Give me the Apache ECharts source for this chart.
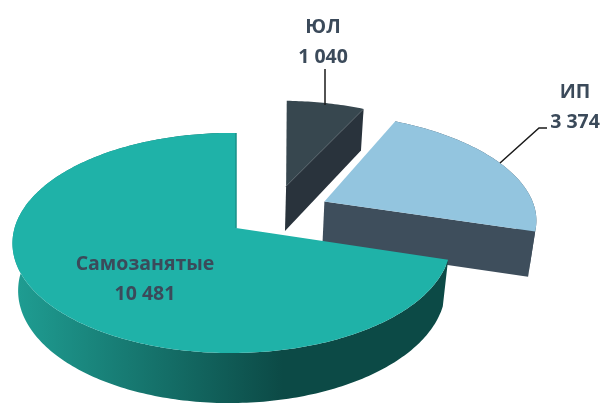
<!DOCTYPE html>
<html>
<head>
<meta charset="utf-8">
<script src="https://cdn.jsdelivr.net/npm/echarts@6/dist/echarts.min.js"></script>
<style>
  html, body { margin: 0; padding: 0; background: #fff; }
  #chart-container { width: 603px; height: 403px; }
</style>
</head>
<body>
<div id="chart-container"></div>
<script>
const categories = ["ЮЛ", "ИП", "Самозанятые"];
const values = [1040, 3374, 10481];
const valueLabels = ["1 040", "3 374", "10 481"];

// how far each slice is pulled out of the pie, in pie radii
const explode = [[0.245, 0.41], [0.425, 0.255], [0, 0]];
// small per slice corrections of the shape: sideways lean and width
const lean = [0.035, 0, 0];
const stretch = [1, 1.03, 1];
const topColors = ["#37474f", "#93c5df", "#1fb2a8"];
const sideColors = ["#29333c", "#3e4e5c", "#0c4a46"];
const labelPos = [[323, 42], [575, 107], [145, 279]];
const leaders = [
    [[325, 69], [325, 105]],
    [[500, 163], [539, 128], [547, 128]],
    null,
];

// perspective projection of the pie plane onto the screen
const cx = 236, cy = 228;
const scaleX = 217, scaleY = 108, depth = 47.6;
const persp = 0.136, perspX = 0.02, perspZ = 0.025;

function project(x, y, z) {
    var d = 1 + persp * y + perspX * x + perspZ * z;
    return [cx + scaleX * x / d, cy + (depth * z - scaleY * y) / d];
}

function rimPoints(i, a0, a1, z) {
    var off = explode[i];
    var pts = [];
    var n = Math.max(2, Math.ceil((a1 - a0) * 180 / Math.PI));
    for (var k = 0; k <= n; k++) {
        var a = a0 + (a1 - a0) * k / n;
        pts.push(project(off[0] + stretch[i] * Math.sin(a) + lean[i] * Math.cos(a), off[1] + Math.cos(a), z));
    }
    return pts;
}

const total = values.reduce(function (s, v) { return s + v; }, 0);
const starts = [];
values.reduce(function (s, v, i) { starts[i] = s; return s + v; }, 0);

function renderSlice(params, api) {
    var i = api.value(0);
    var a0 = starts[i] / total * 2 * Math.PI;
    var a1 = (starts[i] + values[i]) / total * 2 * Math.PI;
    var off = explode[i];
    var apexTop = project(off[0], off[1], 0);
    var apexBottom = project(off[0], off[1], 1);
    var rimTop = rimPoints(i, a0, a1, 0);
    var rimBottom = rimPoints(i, a0, a1, 1);
    var children = [];

    var wallFill = sideColors[i];
    if (i === 2) {
        wallFill = new echarts.graphic.LinearGradient(0, 0, 1, 0, [
            { offset: 0, color: "#1f9e93" },
            { offset: 0.62, color: sideColors[i] },
            { offset: 1, color: sideColors[i] },
        ]);
    }
    // outer wall, the top face covers the part behind it. the first slice only shows its cut face
    if (i !== 0) {
        children.push({
            type: "polygon",
            shape: { points: rimTop.concat(rimBottom.slice().reverse()) },
            style: { fill: wallFill },
        });
    }
    // cut face on the leading edge of the slice
    if (i !== 2) {
        children.push({
            type: "polygon",
            shape: { points: [apexTop, rimTop[rimTop.length - 1], rimBottom[rimBottom.length - 1], apexBottom] },
            style: { fill: sideColors[i] },
        });
    }
    children.push({
        type: "polygon",
        shape: { points: [apexTop].concat(rimTop) },
        style: { fill: topColors[i] },
    });
    if (i === 2) {
        children.push({
            type: "polyline",
            shape: { points: [apexTop, rimTop[rimTop.length - 1]] },
            style: { stroke: "#1a9188", lineWidth: 1.5, fill: null },
        });
    }
    if (leaders[i]) {
        children.push({
            type: "polyline",
            shape: { points: leaders[i] },
            style: { stroke: "#1a1a1a", lineWidth: 1.5, fill: null },
        });
    }
    children.push({
        type: "text",
        style: {
            text: categories[i] + "\n" + valueLabels[i],
            x: labelPos[i][0],
            y: labelPos[i][1],
            align: "center",
            verticalAlign: "middle",
            lineHeight: 30,
            font: "700 19.5px 'Open Sans'",
            fill: "#3b4a5a",
        },
    });
    return { type: "group", children: children };
}

var myChart = echarts.init(document.getElementById("chart-container"), null, { renderer: "canvas" });
myChart.setOption({
    animation: false,
    series: [{
        type: "custom",
        coordinateSystem: "none",
        renderItem: renderSlice,
        data: categories.map(function (c, i) { return [i, values[i]]; }),
    }],
});
</script>
</body>
</html>
